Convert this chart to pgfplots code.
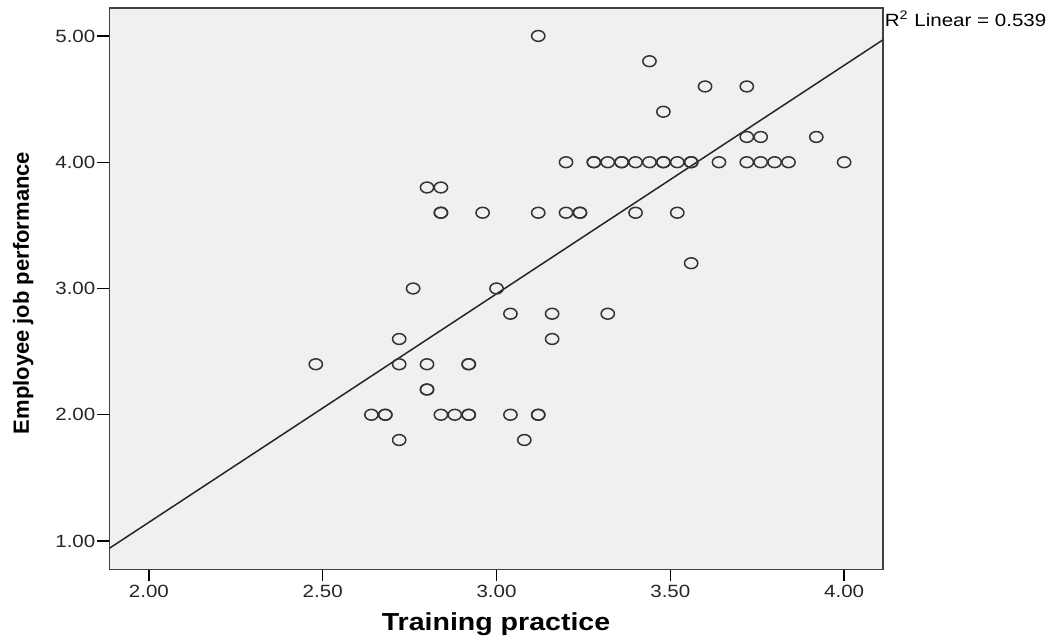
\documentclass[border=0pt]{standalone}
\usepackage{fontspec}
\setmainfont{Liberation Sans}[FakeStretch=1.16]
\newfontfamily\ylabfont{Liberation Sans}
\usepackage{pgfplots}
\pgfplotsset{compat=1.18}
\definecolor{bgc}{HTML}{F0F0F0}
\definecolor{mk}{HTML}{333333}
\begin{document}
\begin{tikzpicture}
\begin{axis}[
  at={(0pt,0pt)}, anchor=south west,
  scale only axis, width=386.7pt, height=280.5pt,
  xmin=1.886, xmax=4.111, ymin=0.776, ymax=5.219,
  axis background/.style={fill=bgc},
  axis line style={black!75, line width=0.8pt},
  xtick={2,2.5,3,3.5,4}, ytick={1,2,3,4,5},
  xticklabels={2.00,2.50,3.00,3.50,4.00},
  yticklabels={1.00,2.00,3.00,4.00,5.00},
  tick align=outside, major tick length=6pt,
  tick style={black, line width=0.7pt},
  xtick pos=bottom, ytick pos=left,
  /pgf/number format/assume math mode=true,
  ticklabel style={font=\fontsize{8.85}{10}\selectfont, text=black!85},
  yticklabel style={inner sep=0.8pt},
  xticklabel style={inner sep=1.5pt},
  xlabel={Training practice},
  ylabel={Employee job performance},
  xlabel style={at={(axis description cs:0.5,-0.1082)}, anchor=base, font=\fontsize{12.3}{14}\selectfont\bfseries},
  ylabel style={at={(axis description cs:-0.1112,0.4925)}, anchor=center, rotate=0, font=\ylabfont\fontsize{11}{13}\selectfont\bfseries},
  clip=true,
]
\addplot[only marks, mark=o, mark size=2.7pt, mk, line width=0.75pt,
  every mark/.append style={xscale=1.23}] coordinates {
(2.80,3.8) (2.84,3.8)
(2.84,3.6) (2.84,3.6) (2.96,3.6)
(2.76,3.0) (3.00,3.0)
(3.12,5.0)
(3.44,4.8)
(3.60,4.6) (3.72,4.6)
(3.48,4.4)
(3.72,4.2) (3.76,4.2) (3.92,4.2)
(3.20,4.0) (3.28,4.0) (3.28,4.0) (3.32,4.0) (3.36,4.0) (3.36,4.0) (3.40,4.0) (3.44,4.0)
(3.48,4.0) (3.48,4.0) (3.52,4.0) (3.56,4.0) (3.56,4.0) (3.64,4.0) (3.72,4.0) (3.76,4.0)
(3.80,4.0) (3.84,4.0) (4.00,4.0)
(3.12,3.6) (3.20,3.6) (3.24,3.6) (3.24,3.6) (3.40,3.6) (3.52,3.6)
(3.56,3.2)
(3.04,2.8) (3.16,2.8) (3.32,2.8)
(3.16,2.6) (2.72,2.6)
(2.48,2.4) (2.72,2.4) (2.80,2.4) (2.92,2.4) (2.92,2.4)
(2.80,2.2) (2.80,2.2)
(2.64,2.0) (2.68,2.0) (2.68,2.0) (2.84,2.0) (2.88,2.0) (2.92,2.0) (2.92,2.0)
(3.04,2.0) (3.12,2.0) (3.12,2.0)
(2.72,1.8) (3.08,1.8)
};
\addplot[black!85, line width=0.75pt, no marks] coordinates {(1.886,0.942) (4.111,4.968)};
\end{axis}
\node[anchor=base west, inner sep=0pt, font=\fontsize{8.85}{10}\selectfont] at (387.6pt,271.2pt) {R\textsuperscript{2} Linear = 0.539};
\pgfresetboundingbox
\path (-54.65pt,-34.85pt) rectangle (470.35pt,284.65pt);
\end{tikzpicture}
\end{document}
